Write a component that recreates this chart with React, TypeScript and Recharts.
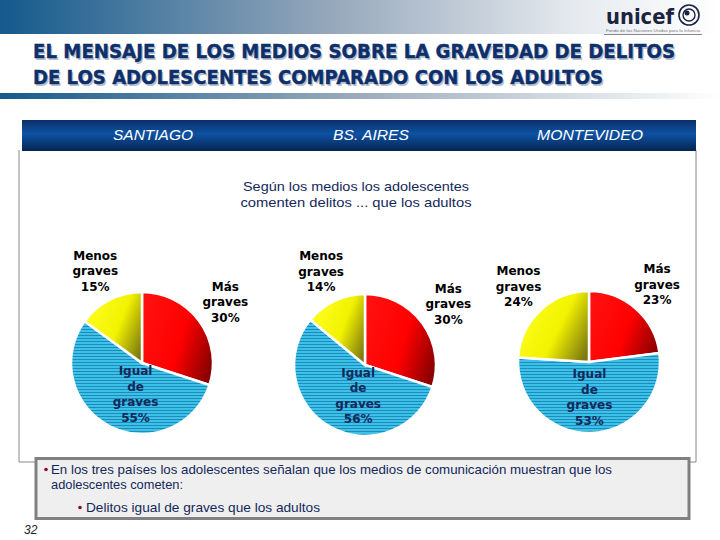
import { PieChart, Pie, Cell } from 'recharts';

const categories = ['Más graves', 'Igual de graves', 'Menos graves'];
const santiago = [30, 55, 15];
const buenosAires = [30, 56, 14];
const montevideo = [23, 53, 24];
const cities = ['SANTIAGO', 'BS. AIRES', 'MONTEVIDEO'];

const FILLS = ['url(#redFill)', 'url(#blueStripes)', 'url(#yellowFill)'];
const NAVY = '#14295a';
const LABEL_FONT = '"DejaVu Sans", Verdana, sans-serif';
const COND_FONT = '"Liberation Sans", Arial, sans-serif';

const toRows = (values: number[]) =>
  categories.map((name, i) => ({ name, value: values[i] }));

const RAD = Math.PI / 180;

function renderLabel(props: any) {
  const { cx, cy, midAngle, outerRadius, index, name, value } = props;
  const cos = Math.cos(-midAngle * RAD);
  const sin = Math.sin(-midAngle * RAD);
  const lines = [...name.split(' '), `${value}%`];
  let x: number;
  let y: number;
  let color = '#000';
  if (index === 1) {
    // etiqueta dentro del sector azul
    x = cx + cos * outerRadius * 0.2;
    y = cy + sin * outerRadius * 0.5;
    color = NAVY;
  } else {
    const r = outerRadius + 32;
    x = cx + cos * r;
    y = cy + sin * r;
  }
  const lh = 15.5;
  const top = y - ((lines.length - 1) * lh) / 2 + 4;
  return (
    <text
      x={x}
      y={top}
      textAnchor="middle"
      fontFamily={LABEL_FONT}
      fontWeight="bold"
      fontSize={12}
      fill={color}
    >
      {lines.map((l, i) => (
        <tspan key={i} x={x} y={top + i * lh}>
          {l}
        </tspan>
      ))}
    </text>
  );
}

const PIES = [
  { data: toRows(santiago), cx: 142, cy: 363 },
  { data: toRows(buenosAires), cx: 365, cy: 365 },
  { data: toRows(montevideo), cx: 589, cy: 362 },
];

export default function App() {
  return (
    <div
      style={{
        position: 'absolute',
        left: 0,
        top: 0,
        width: 720,
        height: 540,
        background: '#fff',
        overflow: 'hidden',
      }}
    >
      <svg width={720} height={540} style={{ position: 'absolute', left: 0, top: 0 }}>
        <defs>
          <linearGradient id="topBand" x1="0" y1="0" x2="1" y2="0">
            <stop offset="0" stopColor="#145a8c" />
            <stop offset="0.45" stopColor="#94a6ba" />
            <stop offset="0.8" stopColor="#e6eaef" />
            <stop offset="1" stopColor="#ffffff" />
          </linearGradient>
          <linearGradient id="midBand" x1="0" y1="0" x2="1" y2="0">
            <stop offset="0" stopColor="#145a8c" />
            <stop offset="0.5" stopColor="#9cacbd" />
            <stop offset="1" stopColor="#ffffff" />
          </linearGradient>
          <linearGradient id="cityBar" x1="0" y1="0" x2="0" y2="1">
            <stop offset="0" stopColor="#0a2f66" />
            <stop offset="0.45" stopColor="#0e52a4" />
            <stop offset="1" stopColor="#05254f" />
          </linearGradient>
        </defs>

        {/* franja superior y logo */}
        <rect x={0} y={0} width={720} height={34} fill="url(#topBand)" />
        <text x={606} y={24} fontFamily={LABEL_FONT} fontWeight="bold" fontSize={21} fill="#1b2340"
          textLength={68} lengthAdjust="spacingAndGlyphs">unicef</text>
        <circle cx={689} cy={15} r={10} fill="none" stroke="#1b2340" strokeWidth={1.6} />
        <circle cx={689} cy={15} r={6} fill="none" stroke="#1b2340" strokeWidth={1.4} />
        <circle cx={687} cy={13} r={2.5} fill="#1b2340" />
        <text x={606} y={32} fontFamily={COND_FONT} fontSize={4} fill="#777"
          textLength={94} lengthAdjust="spacingAndGlyphs">Fondo de las Naciones Unidas para la Infancia</text>
        <line x1={604} y1={34.5} x2={702} y2={34.5} stroke="#888" strokeWidth={1} />

        {/* título */}
        {[
          { t: 'EL MENSAJE DE LOS MEDIOS SOBRE LA GRAVEDAD DE DELITOS', y: 58, w: 642 },
          { t: 'DE LOS ADOLESCENTES COMPARADO CON LOS ADULTOS', y: 84, w: 570 },
        ].map((l, i) => (
          <g key={i} fontFamily={LABEL_FONT} fontWeight="bold" fontSize={19}>
            <text x={34.5} y={l.y + 1.5} fill="#b9c0cc" textLength={l.w} lengthAdjust="spacingAndGlyphs">{l.t}</text>
            <text x={33} y={l.y} fill="#0d2f6b" stroke="#0d2f6b" strokeWidth={0.4}
              textLength={l.w} lengthAdjust="spacingAndGlyphs">{l.t}</text>
          </g>
        ))}
        <rect x={0} y={93} width={720} height={6} fill="url(#midBand)" />

        {/* panel */}
        <polyline points="19,150 19,462 36,462" fill="none" stroke="#888" strokeWidth={1} />
        <polyline points="696,150 696,462 688,462" fill="none" stroke="#888" strokeWidth={1} />
        <rect x={22} y={120} width={674} height={31} fill="url(#cityBar)" />
        {cities.map((c, i) => (
          <text key={c} x={[153, 371, 590][i]} y={140} textAnchor="middle" fontFamily={COND_FONT}
            fontStyle="italic" fontSize={15} fill="#fff" textLength={[80, 76, 106][i]}
            lengthAdjust="spacingAndGlyphs">{c}</text>
        ))}
        <g fontFamily={COND_FONT} fontSize={13} fill={NAVY} textAnchor="middle">
          <text x={356} y={191} textLength={226} lengthAdjust="spacingAndGlyphs">Según los medios los adolescentes</text>
          <text x={356} y={207} textLength={231} lengthAdjust="spacingAndGlyphs">comenten delitos ... que los adultos</text>
        </g>

        {/* cuadro de conclusión */}
        <rect x={36} y={458.5} width={653} height={60} fill="#efefef" stroke="#808080" strokeWidth={3} />
        <g fontFamily={COND_FONT} fontSize={13} fill={NAVY}>
          <circle cx={46} cy={469.5} r={1.8} fill="#8b0a2a" />
          <text x={51} y={474} textLength={561} lengthAdjust="spacingAndGlyphs">En los tres países los adolescentes señalan que los medios de comunicación muestran que los</text>
          <text x={51} y={489} textLength={132} lengthAdjust="spacingAndGlyphs">adolescentes cometen:</text>
          <circle cx={80} cy={507.5} r={1.8} fill="#8b0a2a" />
          <text x={86} y={512} textLength={234} lengthAdjust="spacingAndGlyphs">Delitos igual de graves que los adultos</text>
        </g>
        <text x={24} y={534} fontFamily={COND_FONT} fontStyle="italic" fontSize={12} fill="#222">32</text>
      </svg>

      <div style={{ position: 'absolute', left: 0, top: 0 }}>
        <PieChart width={720} height={540} margin={{ top: 0, right: 0, bottom: 0, left: 0 }}>
          <defs>
            <linearGradient id="redFill" x1="0" y1="0.3" x2="1" y2="0.7">
              <stop offset="0" stopColor="#ff1010" />
              <stop offset="0.55" stopColor="#ff0000" />
              <stop offset="1" stopColor="#8c0000" />
            </linearGradient>
            <linearGradient id="yellowFill" x1="0" y1="0.3" x2="1" y2="0.8">
              <stop offset="0" stopColor="#ffff20" />
              <stop offset="0.55" stopColor="#f2f200" />
              <stop offset="1" stopColor="#7d7a10" />
            </linearGradient>
            <pattern id="blueStripes" width={6} height={3} patternUnits="userSpaceOnUse">
              <rect x={0} y={0} width={6} height={3} fill="#3cc2ea" />
              <rect x={0} y={2} width={6} height={1} fill="#1f8cb8" />
            </pattern>
          </defs>
          {PIES.map((p, k) => (
            <Pie
              key={k}
              data={p.data}
              dataKey="value"
              nameKey="name"
              cx={p.cx}
              cy={p.cy}
              outerRadius={71}
              startAngle={90}
              endAngle={-270}
              stroke="#fff"
              strokeWidth={2.5}
              label={renderLabel}
              labelLine={false}
              isAnimationActive={false}
            >
              {p.data.map((_d, i) => (
                <Cell key={i} fill={FILLS[i]} />
              ))}
            </Pie>
          ))}
        </PieChart>
      </div>
    </div>
  );
}
